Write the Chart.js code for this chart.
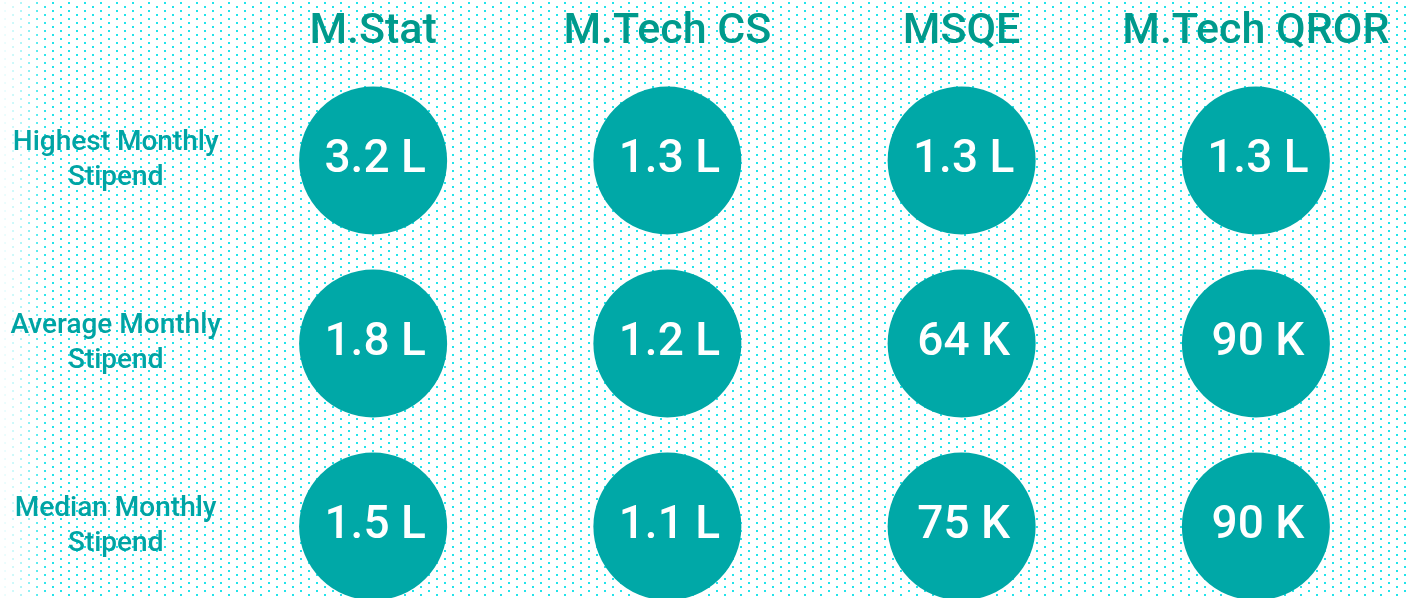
<!DOCTYPE html>
<html>
<head>
<meta charset="utf-8">
<script src="https://cdn.jsdelivr.net/npm/chart.js@4.4.1/dist/chart.umd.min.js"></script>
<style>
  html, body { margin: 0; padding: 0; background: #ffffff; overflow: hidden; }
  canvas { display: block; }
</style>
</head>
<body>
<canvas id="c" width="1410" height="640" style="width:1410px;height:640px"></canvas>
<script>
// ---- data ----
const programs = ['M.Stat', 'M.Tech CS', 'MSQE', 'M.Tech QROR'];
const metrics = ['Highest Monthly Stipend', 'Average Monthly Stipend', 'Median Monthly Stipend'];
const highestStipend = ['3.2 L', '1.3 L', '1.3 L', '1.3 L'];
const averageStipend = ['1.8 L', '1.2 L', '64 K', '90 K'];
const medianStipend = ['1.5 L', '1.1 L', '75 K', '90 K'];
const rows = [highestStipend, averageStipend, medianStipend];

// ---- build points ----
const points = [];
rows.forEach((row, r) => {
  row.forEach((val, c) => {
    points.push({ x: programs[c], y: metrics[r], label: val });
  });
});

const CIRCLE = '#00a8a7';
const HEADER = '#009a8c';
const ROWLBL = '#00a4a4';

const dotBackground = {
  id: 'dotBackground',
  beforeDraw(chart) {
    const ctx = chart.ctx;
    const w = chart.width, h = chart.height;
    ctx.save();
    ctx.fillStyle = '#ffffff';
    ctx.fillRect(0, 0, w, h);
    ctx.fillStyle = '#22e3ea';
    for (let r = 0; r * 4 < h + 8; r++) {
      const y = 2 + r * 4;
      const off = (r % 2 === 0) ? 5 : 13;
      for (let x = off; x < w + 16; x += 16) {
        ctx.fillRect(x - 1, y, 2, 2);
      }
    }
    const g = ctx.createLinearGradient(0, 0, 48, 0);
    g.addColorStop(0, 'rgba(255,255,255,1)');
    g.addColorStop(0.5, 'rgba(255,255,255,0.6)');
    g.addColorStop(1, 'rgba(255,255,255,0)');
    ctx.fillStyle = g;
    ctx.fillRect(0, 0, 48, h);
    ctx.restore();
  }
};

const circleText = {
  id: 'circleText',
  afterDatasetsDraw(chart) {
    const ctx = chart.ctx;
    const meta = chart.getDatasetMeta(0);
    ctx.save();
    ctx.fillStyle = '#ffffff';
    ctx.font = '500 46px Roboto';
    ctx.textAlign = 'center';
    ctx.textBaseline = 'middle';
    meta.data.forEach((el, i) => {
      const p = chart.data.datasets[0].data[i];
      ctx.fillText(p.label, el.x + 2, el.y);
    });
    ctx.restore();
  }
};

new Chart(document.getElementById('c'), {
  type: 'scatter',
  data: {
    datasets: [{
      data: points,
      backgroundColor: CIRCLE,
      borderWidth: 0,
      pointRadius: 74,
      pointHoverRadius: 74,
      pointBorderWidth: 0
    }]
  },
  options: {
    responsive: false,
    maintainAspectRatio: false,
    devicePixelRatio: 1,
    animation: false,
    events: [],
    layout: { autoPadding: false, padding: { top: 0, left: 0, right: 7, bottom: 22 } },
    plugins: { legend: { display: false }, tooltip: { enabled: false } },
    scales: {
      x: {
        type: 'category',
        labels: programs,
        position: 'top',
        offset: true,
        grid: { display: false, drawTicks: false },
        border: { display: false },
        ticks: {
          color: HEADER,
          font: { family: 'Roboto', size: 43, weight: '500' },
          padding: 11,
          maxRotation: 0,
          autoSkip: false
        },
        afterFit(scale) { scale.height = 69; scale.paddingLeft = 0; scale.paddingRight = 0; }
      },
      y: {
        type: 'category',
        labels: metrics,
        position: 'left',
        offset: true,
        grid: { display: false, drawTicks: false },
        border: { display: false },
        ticks: {
          color: ROWLBL,
          font: { family: 'Roboto', size: 28, weight: '500', lineHeight: 1.25 },
          crossAlign: 'center',
          padding: 5,
          autoSkip: false,
          callback(value) {
            const words = this.getLabelForValue(value).split(' ');
            return [words.slice(0, -1).join(' '), words[words.length - 1]];
          }
        },
        afterFit(scale) { scale.width = 226; scale.paddingTop = 0; scale.paddingBottom = 0; }
      }
    }
  },
  plugins: [dotBackground, circleText]
});
</script>
</body>
</html>
